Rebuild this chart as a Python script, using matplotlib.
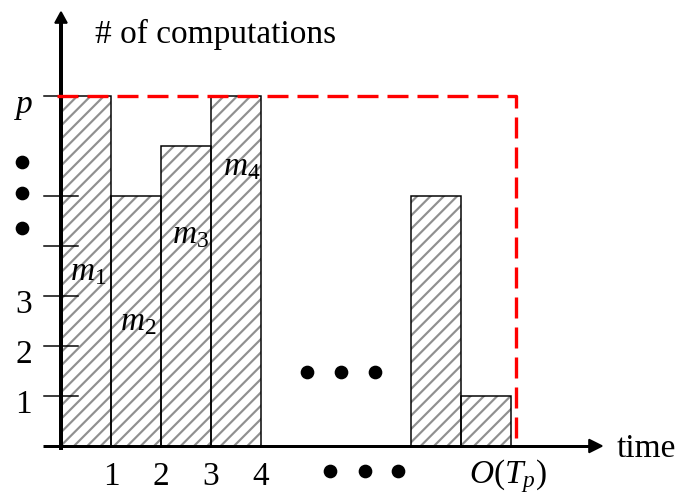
import matplotlib
matplotlib.use("Agg")
import matplotlib.pyplot as plt
from matplotlib.patches import Polygon

# ---- data -------------------------------------------------------------
p_level = 7                                   # height of the "p" level
bar_left = [0, 1, 2, 3, 7, 8]                 # start time of each step
bar_height = [7, 5, 6, 7, 5, 1]               # computations per step
tick_values = [1, 2, 3, 4, 5, 7]              # y ticks
tick_labels = ["1", "2", "3", "", "", "$p$"]  # y tick text
xtick_values = [1, 2, 3, 4]
xtick_labels = ["1", "2", "3", "4"]
bar_names = ["$m_1$", "$m_2$", "$m_3$", "$m_4$"]
name_pos = [(0.18, 3.32), (1.18, 2.32), (2.22, 4.06), (3.24, 5.42)]
t_end = 9.1                                   # O(T_p) bound

# ---- style ------------------------------------------------------------
plt.rcParams["font.family"] = ["Liberation Serif", "DejaVu Serif"]
plt.rcParams["mathtext.fontset"] = "custom"
plt.rcParams["mathtext.rm"] = "Liberation Serif"
plt.rcParams["mathtext.it"] = "Liberation Serif:italic"
plt.rcParams["hatch.linewidth"] = 1.3
FS = 20
DPI = 120

fig = plt.figure(figsize=(682 / DPI, 496 / DPI), dpi=DPI)
ax = fig.add_axes([0, 0, 1, 1])
ax.set_xlim(-1.22, 12.42)
ax.set_ylim(-1.0, 8.92)
ax.axis("off")

# hatched bars: hatch layer, then black outline
ax.bar(bar_left, bar_height, width=1, align="edge", color="white",
       edgecolor="#909090", hatch="///", linewidth=0, zorder=1)
ax.bar(bar_left, bar_height, width=1, align="edge", fill=False,
       edgecolor="black", linewidth=0.9, zorder=2)

# axes with arrow heads
ax.plot([-0.36, 10.6], [0, 0], color="black", lw=1.8, zorder=3,
        solid_capstyle="butt")
ax.plot([0, 0], [-0.08, 8.5], color="black", lw=2.4, zorder=3,
        solid_capstyle="butt")
ax.add_patch(Polygon([[10.82, 0], [10.56, 0.13], [10.56, -0.13]],
                     closed=True, color="black", zorder=3))
ax.add_patch(Polygon([[0, 8.68], [-0.12, 8.46], [0.12, 8.46]],
                     closed=True, color="black", zorder=3))

# y ticks crossing the axis
for v in tick_values:
    ax.plot([-0.35, 0.34], [v, v], color="black", lw=0.9, zorder=3)
for v, lab in zip(tick_values, tick_labels):
    if lab:
        ax.text(-0.75, v - 0.34, lab, fontsize=FS, ha="center",
                va="baseline", zorder=4)

# x tick labels
for v, lab in zip(xtick_values, xtick_labels):
    ax.text(v, -0.78, lab, fontsize=FS, ha="center", va="baseline")
ax.text(t_end - 0.16, -0.74, "$O(T_p)$", fontsize=FS, ha="center",
        va="baseline")

# bar names
for (x, y), name in zip(name_pos, bar_names):
    ax.text(x, y, name, fontsize=FS, ha="left", va="baseline", zorder=4)

# axis titles
ax.text(0.68, 8.06, "# of computations", fontsize=FS, ha="left",
        va="baseline")
ax.text(11.12, -0.22, "time", fontsize=FS, ha="left", va="baseline")

# ellipsis dots
dot = dict(marker="o", color="black", markersize=7.2, linestyle="none",
           zorder=4)
ax.plot([-0.79, -0.79, -0.79], [5.68, 5.06, 4.36], **dot)
ax.plot([4.92, 5.6, 6.28], [1.48, 1.48, 1.48], **dot)
ax.plot([5.38, 6.08, 6.74], [-0.49, -0.49, -0.49], **dot)

# red dashed bound: p processors over O(T_p) time
ax.plot([-0.08, t_end, t_end], [p_level, p_level, 0], color="#ff0000",
        lw=2.0, dashes=(6.3, 2.7), zorder=5, solid_joinstyle="miter")

fig.savefig("out.png", dpi=DPI)
